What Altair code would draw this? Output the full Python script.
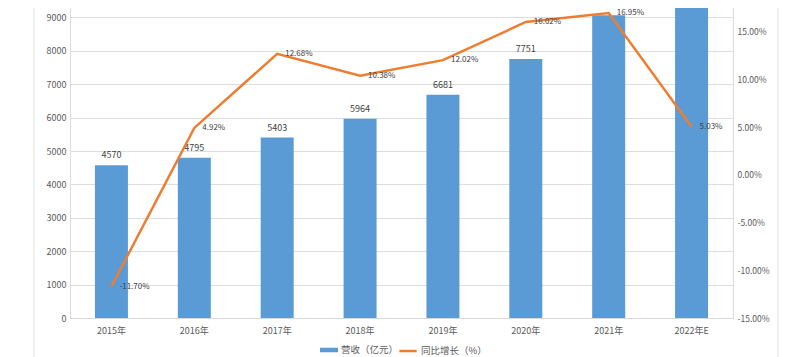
import altair as alt
import pandas as pd

years = ["2015年", "2016年", "2017年", "2018年", "2019年", "2020年", "2021年", "2022年E"]
revenue = [4570, 4795, 5403, 5964, 6681, 7751, 9065, 9521]
growth = [-11.70, 4.92, 12.68, 10.38, 12.02, 16.02, 16.95, 5.03]
rev_name = "营收（亿元）"
gr_name = "同比增长（%）"

df = pd.DataFrame({
    "year": years,
    "revenue": revenue,
    "growth": growth,
    "rev_s": [rev_name] * len(years),
    "gr_s": [gr_name] * len(years),
})
df["rev_label"] = df["revenue"].astype(str)
df["gr_label"] = df["growth"].map(lambda v: f"{v:.2f}%")

FONT = "Noto Sans CJK SC"
GRAY = "#595959"
BLUE = "#5B9BD5"
ORANGE = "#ED7D31"

x = alt.X("year:N", sort=years, title=None,
          scale=alt.Scale(paddingInner=0.6, paddingOuter=0.3),
          axis=alt.Axis(labelAngle=0, labelFontSize=9, labelColor=GRAY, labelFont=FONT,
                        tickSize=0, labelPadding=8, domainColor="#D9D9D9", grid=False))

left_axis = alt.Axis(values=list(range(0, 9001, 1000)), format="d", tickSize=0, domain=False,
                     labelFontSize=9, labelColor=GRAY, labelFont=FONT, labelPadding=4,
                     gridColor="#DEDEDE", gridWidth=1, title=None)
left_scale = alt.Scale(domain=[0, 10000], nice=False)

right_axis = alt.Axis(orient="right", values=[-15, -10, -5, 0, 5, 10, 15],
                      labelExpr="replace(format(datum.value, '.2f'), '\u2212', '-') + '%'",
                      tickSize=0, domain=False, grid=False, labelFontSize=8.5,
                      labelColor=GRAY, labelFont=FONT, labelPadding=4, title=None)
right_scale = alt.Scale(domain=[-15, 20], nice=False)

bars = alt.Chart(df).mark_bar(size=33).encode(
    x=x,
    y=alt.Y("revenue:Q", title=None, scale=left_scale, axis=left_axis),
    color=alt.Color("rev_s:N", title=None,
                    scale=alt.Scale(range=[BLUE]),
                    legend=alt.Legend(orient="none", legendX=250, legendY=357,
                                      symbolType="M-1,-0.25H1V0.25H-1Z", symbolSize=324,
                                      symbolStrokeWidth=0, labelFontSize=9.5, labelColor=GRAY,
                                      labelFont=FONT, labelOffset=3, padding=0)),
)

bar_text = alt.Chart(df).mark_text(dy=-10, fontSize=9, color="#404040", font=FONT).encode(
    x=x,
    y=alt.Y("revenue:Q", title=None, scale=left_scale, axis=left_axis),
    text="rev_label:N",
)

left = alt.layer(bars, bar_text)

line = alt.Chart(df).mark_line(strokeWidth=2.5).encode(
    x=x,
    y=alt.Y("growth:Q", title=None, scale=right_scale, axis=right_axis),
    stroke=alt.Stroke("gr_s:N", title=None,
                      scale=alt.Scale(range=[ORANGE]),
                      legend=alt.Legend(orient="none", legendX=328, legendY=357,
                                        symbolType="stroke", symbolSize=300,
                                        symbolStrokeWidth=2.5, labelFontSize=9.5,
                                        labelColor=GRAY, labelFont=FONT, labelOffset=3,
                                        padding=0)),
)

line_text = alt.Chart(df).mark_text(align="left", dx=8, dy=0, fontSize=8, color="#404040",
                                    font=FONT).encode(
    x=x,
    y=alt.Y("growth:Q", title=None, scale=right_scale, axis=right_axis),
    text="gr_label:N",
)

right = alt.layer(line, line_text)

frame_df = pd.DataFrame({"k": [0]})
frame_left = alt.Chart(frame_df).mark_rule(color="#E3E3E3", strokeWidth=1).encode(
    x=alt.value(-36), y=alt.value(19), y2=alt.value(400))
frame_right = alt.Chart(frame_df).mark_rule(color="#E3E3E3", strokeWidth=1).encode(
    x=alt.value(708), y=alt.value(19), y2=alt.value(400))

chart = alt.layer(left, right, frame_left, frame_right).resolve_scale(
    y="independent"
).properties(
    width=663,
    height=334,
    padding={"top": -24, "left": 62, "right": 55, "bottom": 39},
    autosize=alt.AutoSizeParams(type="none"),
).configure_view(stroke=None).configure(background="white")

chart.save("out.html", embed_options={"renderer": "svg", "actions": False})
